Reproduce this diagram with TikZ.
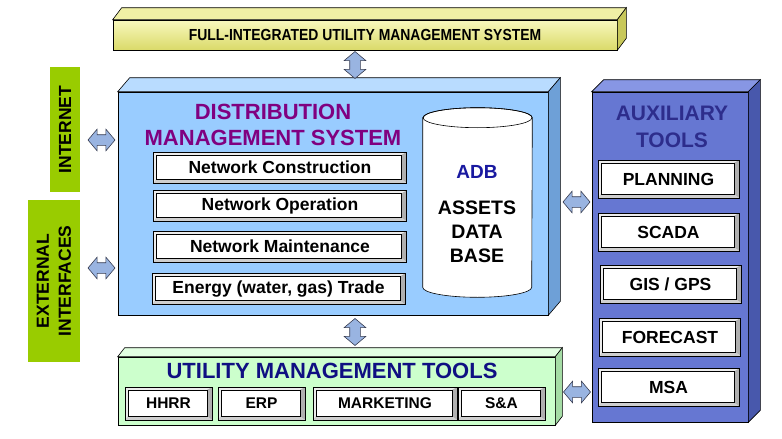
\documentclass[tikz,border=0pt]{standalone}
\usepackage{fontspec}
\setmainfont{Liberation Sans}
\usetikzlibrary{shapes.arrows,calc}

\definecolor{barTopC}{RGB}{248,248,190}
\definecolor{barBotC}{RGB}{218,218,105}
\definecolor{barLid}{RGB}{240,240,165}
\definecolor{barSide}{RGB}{200,200,90}
\definecolor{dmsBlue}{RGB}{153,204,255}
\definecolor{dmsLid}{RGB}{185,220,255}
\definecolor{dmsSide}{RGB}{110,160,215}
\definecolor{auxBlue}{RGB}{102,119,210}
\definecolor{auxLid}{RGB}{135,150,228}
\definecolor{auxSide}{RGB}{72,88,172}
\definecolor{umtGreen}{RGB}{204,255,204}
\definecolor{umtLid}{RGB}{226,255,226}
\definecolor{umtSide}{RGB}{165,220,165}
\definecolor{extGreen}{RGB}{153,204,0}
\definecolor{arrowFill}{RGB}{153,180,225}
\definecolor{arrowEdge}{RGB}{55,60,80}
\definecolor{dmsPurple}{RGB}{128,0,128}
\definecolor{adbBlue}{RGB}{25,25,160}
\definecolor{auxTitle}{RGB}{45,45,140}
\definecolor{umtNavy}{RGB}{15,15,130}

% lid and side of a box: node, lid colour, side colour, dx, dy
\newcommand{\slab}[5]{%
  \filldraw[fill=#2] (#1.north west) -- ++(#4,-#5) -- ($(#1.north east)+(#4,-#5)$) -- (#1.north east) -- cycle;
  \filldraw[fill=#3] (#1.north east) -- ++(#4,-#5) -- ($(#1.south east)+(#4,-#5)$) -- (#1.south east) -- cycle;
}
% bevel of a button
\newcommand{\bevelin}{%
  \fill[gray!62] (path picture bounding box.north east) -- (path picture bounding box.south east)
    -- ([shift={(-5pt,4pt)}]path picture bounding box.south east) -- ([shift={(-5pt,-3pt)}]path picture bounding box.north east) -- cycle;
  \fill[gray!38] (path picture bounding box.south west) -- (path picture bounding box.south east)
    -- ([shift={(-5pt,4pt)}]path picture bounding box.south east) -- ([shift={(3pt,4pt)}]path picture bounding box.south west) -- cycle;
  \draw[fill=white,line width=0.4pt] ([shift={(3pt,-3pt)}]path picture bounding box.north west)
    rectangle ([shift={(-5pt,4pt)}]path picture bounding box.south east);
}

\begin{document}
\begin{tikzpicture}[x=1pt,y=-1pt,line width=0.6pt,
  slab front/.style={draw,rectangle,inner sep=0pt},
  bevel box/.style={draw,fill=gray!15,inner sep=0pt,path picture={\bevelin}},
  green box/.style={fill=extGreen,inner sep=0pt,rotate=90,align=center,font=\fontsize{17.5}{22}\selectfont\bfseries},
  dbl arrow/.style={double arrow,draw=arrowEdge,fill=arrowFill,inner sep=5pt,minimum height=27pt,
    double arrow head extend=5.5pt,double arrow tip angle=100},
  dms item/.style={bevel box,minimum width=253pt,minimum height=31pt,font=\fontsize{17.5}{20}\selectfont\bfseries},
  aux item/.style={bevel box,minimum width=141pt,minimum height=38pt,font=\fontsize{17.5}{20}\selectfont\bfseries},
  umt item/.style={bevel box,minimum height=33pt,font=\fontsize{15.5}{18}\selectfont\bfseries}]
  \useasboundingbox (0,0) rectangle (782,439);

  % left side
  \node[green box,minimum width=125pt,minimum height=30pt] (inet) at (65,129.5) {INTERNET};
  \node[green box,minimum width=162pt,minimum height=52pt] (ext) at (54,281) {EXTERNAL\\INTERFACES};

  % top bar
  \node[slab front,top color=barTopC,bottom color=barBotC,minimum width=504pt,minimum height=30pt,
    font=\fontsize{16}{19}\selectfont\bfseries] (fiums) at (365,35) {\scalebox{0.87}[1]{FULL-INTEGRATED UTILITY MANAGEMENT SYSTEM}};
  \slab{fiums}{barLid}{barSide}{9}{12}

  % distribution management system
  \node[slab front,fill=dmsBlue,minimum width=430pt,minimum height=223pt] (dms) at (333,203.5) {};
  \slab{dms}{dmsLid}{dmsSide}{12}{14}
  \node[text=dmsPurple,align=center,font=\fontsize{22}{26}\selectfont\bfseries] (dmstitle) at (273,125) {DISTRIBUTION\\MANAGEMENT SYSTEM};
  \node[dms item] (construct) at (280,167.5) {Network Construction};
  \node[dms item] (operate) at (280,206) {Network Operation};
  \node[dms item] (maintain) at (280,246.5) {Network Maintenance};
  \node[dms item] (trade) at (278.5,289) {Energy (water, gas) Trade};

  % assets data base
  \node[minimum width=109pt,minimum height=189pt,inner sep=0pt] (adb) at (477.5,202.5) {};
  \draw[fill=white] ([yshift=-10pt]adb.north west) -- ([yshift=10pt]adb.south west)
    arc[start angle=180,end angle=360,x radius=54.5pt,y radius=10pt]
    -- ([yshift=-10pt]adb.north east)
    arc[start angle=0,end angle=180,x radius=54.5pt,y radius=10pt] -- cycle;
  \draw ([yshift=-10pt]adb.north) ellipse[x radius=54.5pt,y radius=10pt];
  \node[text=adbBlue,font=\fontsize{19}{22}\selectfont\bfseries] (adbname) at (477,172) {ADB};
  \node[align=center,font=\fontsize{19.5}{24}\selectfont\bfseries] (adbtext) at (477,232) {ASSETS\\DATA\\BASE};

  % auxiliary tools
  \node[slab front,fill=auxBlue,minimum width=156pt,minimum height=330pt] (aux) at (670,257) {};
  \slab{aux}{auxLid}{auxSide}{12}{12}
  \node[text=auxTitle,align=center,font=\fontsize{21}{27}\selectfont\bfseries] (auxtitle) at (672,126.5) {AUXILIARY\\TOOLS};
  \node[aux item] (planning) at (668.5,179) {PLANNING};
  \node[aux item] (scada) at (668.5,232) {SCADA};
  \node[aux item] (gis) at (670.5,284) {GIS / GPS};
  \node[aux item] (forecast) at (670,337) {FORECAST};
  \node[aux item] (msa) at (668.5,387.5) {MSA};

  % utility management tools
  \node[slab front,fill=umtGreen,minimum width=437pt,minimum height=68pt] (umt) at (336.5,391) {};
  \slab{umt}{umtLid}{umtSide}{7}{9}
  \node[text=umtNavy,font=\fontsize{22}{26}\selectfont\bfseries] (umttitle) at (332,371) {UTILITY MANAGEMENT TOOLS};
  \node[umt item,minimum width=87pt] (hhrr) at (168.5,403.5) {HHRR};
  \node[umt item,minimum width=87pt] (erp) at (261.5,403.5) {ERP};
  \node[umt item,minimum width=144pt] (marketing) at (385,403.5) {MARKETING};
  \node[umt item,minimum width=87pt] (sa) at (501.5,403.5) {S\&A};

  % links
  \node[dbl arrow,rotate=90] (fiums-dms) at (355,65) {};
  \node[dbl arrow,rotate=90] (dms-umt) at (355,332) {};
  \node[dbl arrow] (inet-dms) at (101.5,140) {};
  \node[dbl arrow] (ext-dms) at (101.5,268) {};
  \node[dbl arrow] (dms-aux) at (576.5,202) {};
  \node[dbl arrow] (umt-aux) at (577,392) {};
\end{tikzpicture}
\end{document}
